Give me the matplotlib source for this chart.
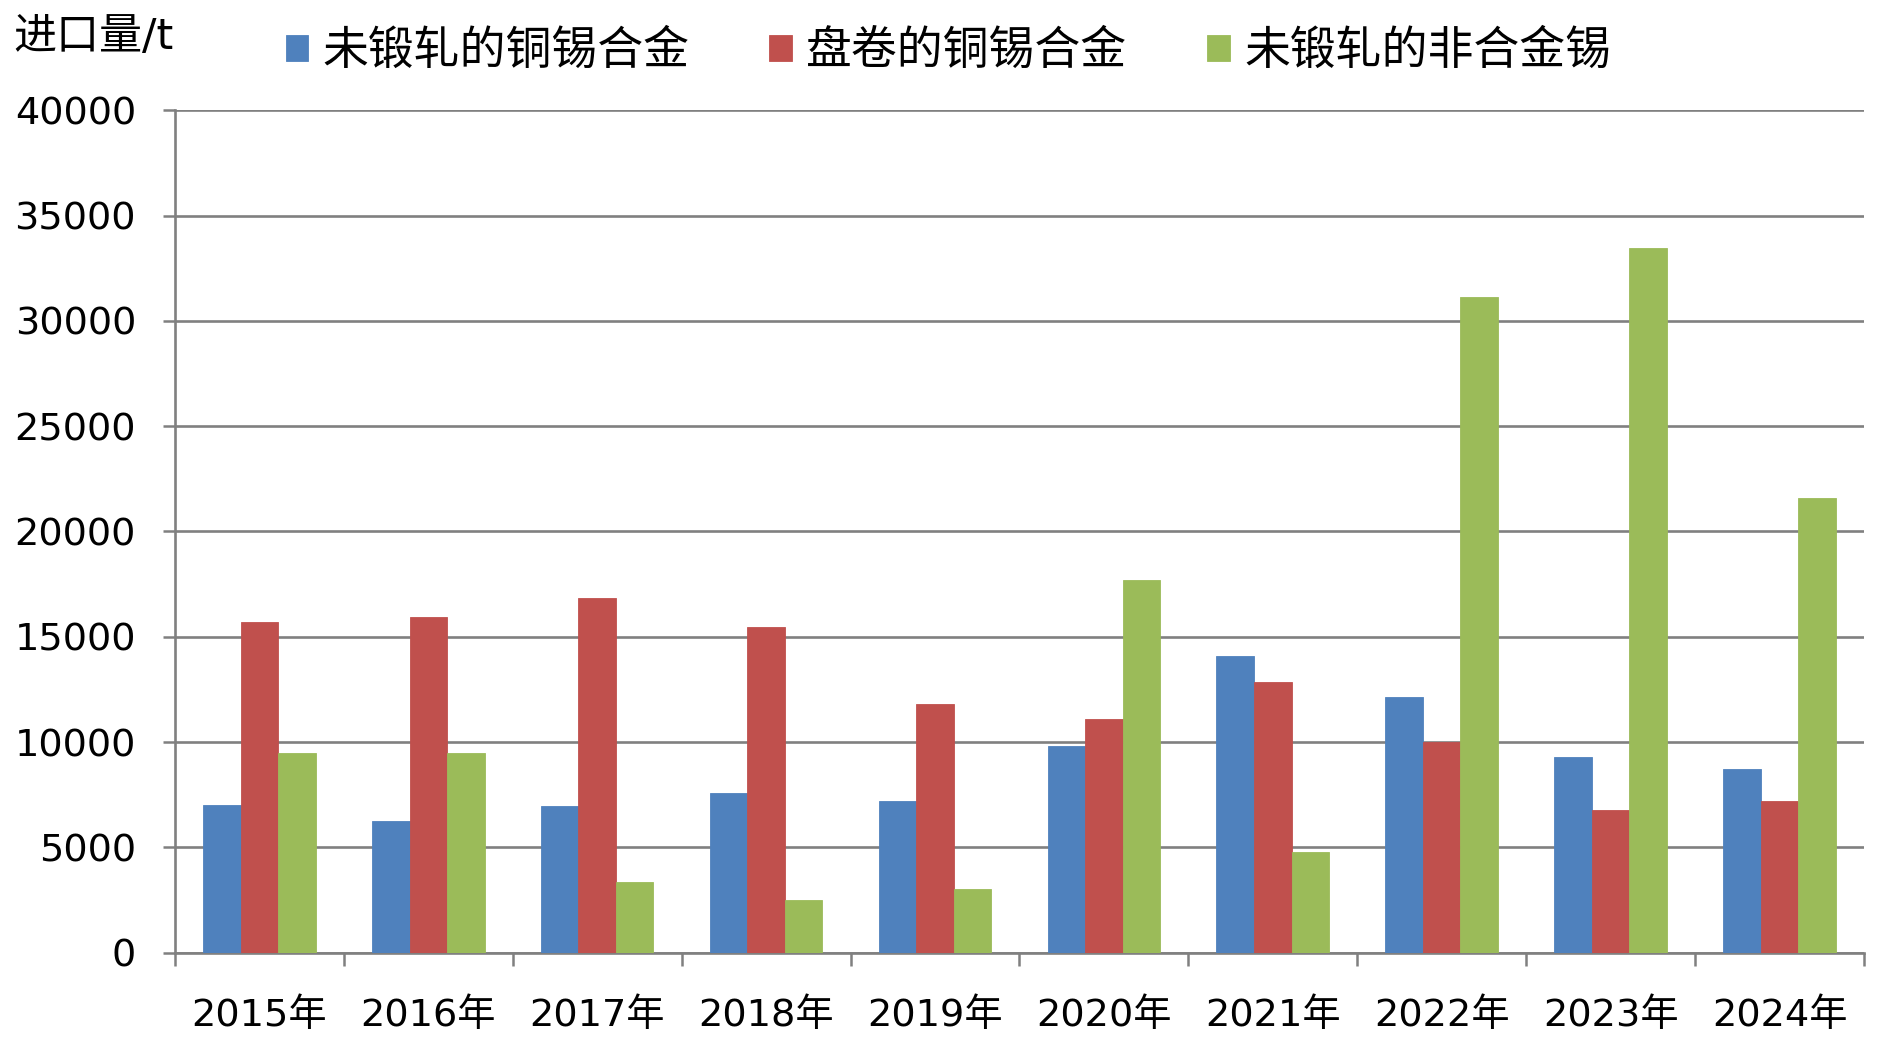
import numpy as np
import matplotlib
matplotlib.use('Agg')
import matplotlib.pyplot as plt

plt.rcParams['font.family'] = ['DejaVu Sans', 'Noto Sans CJK SC']

# import volumes (t) per year
years = ['2015年', '2016年', '2017年', '2018年', '2019年',
         '2020年', '2021年', '2022年', '2023年', '2024年']
cu_sn_unwrought = [7030, 6240, 6950, 7570, 7210, 9810, 14080, 12160, 9300, 8700]
cu_sn_coiled = [15680, 15950, 16840, 15440, 11830, 11080, 12830, 9990, 6790, 7220]
sn_unalloyed = [9490, 9490, 3350, 2480, 3000, 17680, 4800, 31110, 33460, 21580]

series_names = ['未锻轧的铜锡合金', '盘卷的铜锡合金', '未锻轧的非合金锡']
colors = ['#4F81BD', '#C0504D', '#9BBB59']
grid_col = '#808080'

fig = plt.figure(figsize=(18.91, 10.55), dpi=100)
ax = fig.add_axes([0.0925, 0.097, 0.8932, 0.7985])

x = np.arange(len(years))
w = 1 / 4.5  # excel gap width 150%
handles = []
for i, (vals, name, c) in enumerate(zip([cu_sn_unwrought, cu_sn_coiled, sn_unalloyed],
                                        series_names, colors)):
    b = ax.bar(x + (i - 1) * w, vals, width=w, color=c, edgecolor=c,
               linewidth=0.6, label=name, zorder=3)
    handles.append(b)

ax.set_xlim(-0.5, len(years) - 0.5)
ax.set_ylim(0, 40000)
ax.set_yticks(range(0, 40001, 5000))
ax.tick_params(axis='y', labelsize=27.5, length=9, width=1.8, color=grid_col, pad=19)
ax.yaxis.grid(True, color=grid_col, linewidth=1.9, zorder=0)
ax.set_axisbelow(True)

ax.set_xticks(x)
ax.set_xticklabels(years)
ax.set_xticks(np.arange(-0.5, len(years)), minor=True)
ax.tick_params(axis='x', which='major', length=0, labelsize=27.5, pad=33)
ax.tick_params(axis='x', which='minor', length=9, width=1.8, color=grid_col)

for s in ['top', 'right']:
    ax.spines[s].set_visible(False)
for s in ['left', 'bottom']:
    ax.spines[s].set_color(grid_col)
    ax.spines[s].set_linewidth(1.9)

fig.text(0.007, 0.965, '进口量/t', fontsize=31, va='center', ha='left')

fig.legend(handles=handles, labels=series_names, loc='center left',
           bbox_to_anchor=(0.151, 0.951), ncol=3, frameon=False,
           fontsize=33, handlelength=0.5, handleheight=0.5,
           handletextpad=0.3, columnspacing=1.75, borderpad=0, borderaxespad=0)

fig.savefig('out.png', dpi=100)
